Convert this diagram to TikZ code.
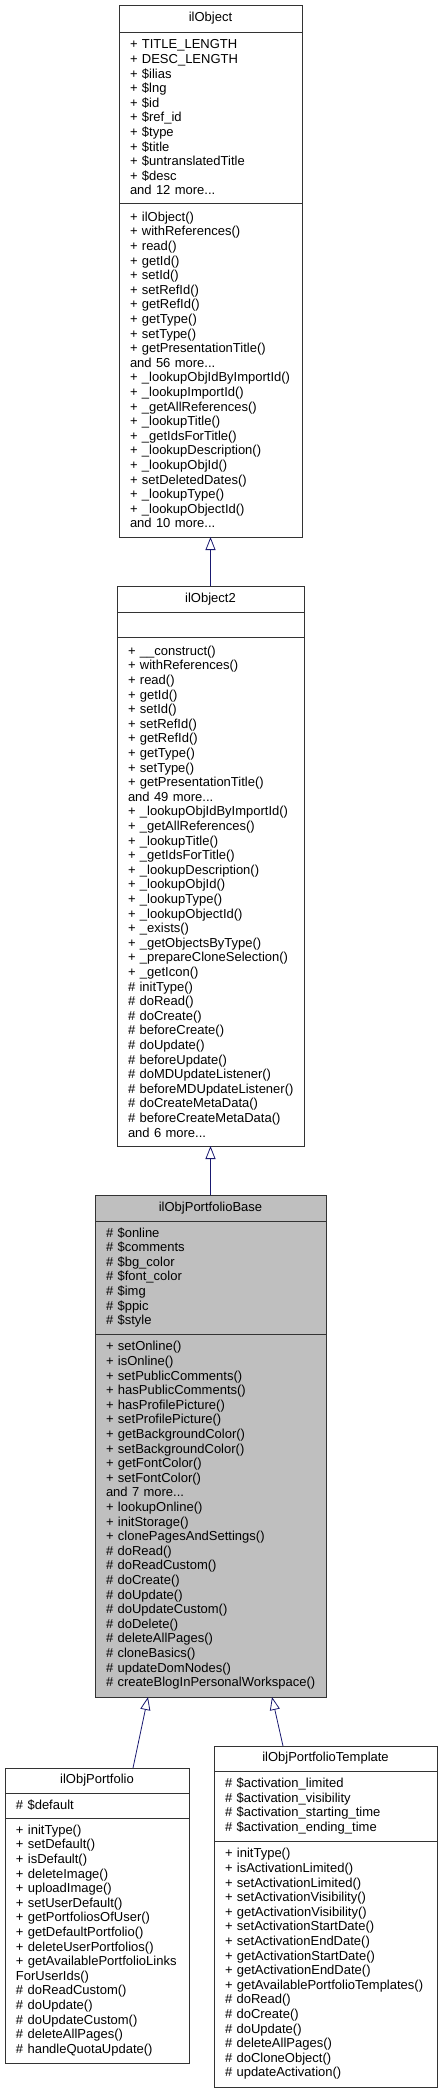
\documentclass[tikz,border=0pt]{standalone}
\usepackage{fontspec}
\setmainfont{Liberation Sans}
\usetikzlibrary{arrows.meta,positioning}
\definecolor{basegray}{RGB}{191,191,191}
\definecolor{inhblue}{RGB}{25,25,112}
\newcommand{\memfont}{\fontsize{13}{14.6}\selectfont\hyphenpenalty=10000}

\begin{document}
\begin{tikzpicture}[x=1pt, y=-1pt,
  part/.style={draw=black!80, line width=0.8pt, outer sep=0pt,
    inner xsep=11pt, inner ysep=0pt, font=\memfont, anchor=north west},
  cname/.style={part, align=center},
  members/.style={part, align=left},
  inh/.style={-{Triangle[open, length=13pt, width=10pt]}, inhblue, line width=0.8pt}]
\useasboundingbox (0,0) rectangle (442,2092);
% ilObject
\node[cname, text width=161pt, minimum height=27pt] (objT) at (119,5) {ilObject};
\node[members, text width=161pt, minimum height=171pt] (objA) at (objT.south west)
  {+~TITLE\_LENGTH\\+~DESC\_LENGTH\\+~\$ilias\\+~\$lng\\+~\$id\\+~\$ref\_id\\+~\$type\\
   +~\$title\\+~\$untranslatedTitle\\+~\$desc\\and 12 more...};
\node[members, text width=161pt, minimum height=334pt] (objM) at (objA.south west)
  {+~ilObject()\\+~withReferences()\\+~read()\\+~getId()\\+~setId()\\+~setRefId()\\
   +~getRefId()\\+~getType()\\+~setType()\\+~getPresentationTitle()\\and 56 more...\\
   +~\_lookupObjIdByImportId()\\+~\_lookupImportId()\\+~\_getAllReferences()\\
   +~\_lookupTitle()\\+~\_getIdsForTitle()\\+~\_lookupDescription()\\+~\_lookupObjId()\\
   +~setDeletedDates()\\+~\_lookupType()\\+~\_lookupObjectId()\\and 10 more...};
% ilObject2
\node[cname, text width=165pt, minimum height=26pt] (obj2T) at (117,586) {ilObject2};
\node[members, text width=165pt, minimum height=25pt] (obj2A) at (obj2T.south west) {};
\node[members, text width=165pt, minimum height=509pt] (obj2M) at (obj2A.south west)
  {+~\_\_construct()\\+~withReferences()\\+~read()\\+~getId()\\+~setId()\\+~setRefId()\\
   +~getRefId()\\+~getType()\\+~setType()\\+~getPresentationTitle()\\and 49 more...\\
   +~\_lookupObjIdByImportId()\\+~\_getAllReferences()\\+~\_lookupTitle()\\
   +~\_getIdsForTitle()\\+~\_lookupDescription()\\+~\_lookupObjId()\\+~\_lookupType()\\
   +~\_lookupObjectId()\\+~\_exists()\\+~\_getObjectsByType()\\+~\_prepareCloneSelection()\\
   +~\_getIcon()\\\#~initType()\\\#~doRead()\\\#~doCreate()\\\#~beforeCreate()\\
   \#~doUpdate()\\\#~beforeUpdate()\\\#~doMDUpdateListener()\\\#~beforeMDUpdateListener()\\
   \#~doCreateMetaData()\\\#~beforeCreateMetaData()\\and 6 more...};
\draw[inh] (obj2T) -- (objM);
% ilObjPortfolioBase
\node[cname, fill=basegray, text width=209pt, minimum height=26pt] (baseT) at (95,1195) {ilObjPortfolioBase};
\node[members, fill=basegray, text width=209pt, minimum height=113pt] (baseA) at (baseT.south west)
  {\#~\$online\\\#~\$comments\\\#~\$bg\_color\\\#~\$font\_color\\\#~\$img\\\#~\$ppic\\\#~\$style};
\node[members, fill=basegray, text width=209pt, minimum height=363pt] (baseM) at (baseA.south west)
  {+~setOnline()\\+~isOnline()\\+~setPublicComments()\\+~hasPublicComments()\\
   +~hasProfilePicture()\\+~setProfilePicture()\\+~getBackgroundColor()\\
   +~setBackgroundColor()\\+~getFontColor()\\+~setFontColor()\\and 7 more...\\
   +~lookupOnline()\\+~initStorage()\\+~clonePagesAndSettings()\\\#~doRead()\\
   \#~doReadCustom()\\\#~doCreate()\\\#~doUpdate()\\\#~doUpdateCustom()\\\#~doDelete()\\
   \#~deleteAllPages()\\\#~cloneBasics()\\\#~updateDomNodes()\\\#~createBlogInPersonalWorkspace()};
\draw[inh] (baseT) -- (obj2M);
% ilObjPortfolio
\node[cname, text width=162pt, minimum height=25pt] (pfT) at (5,1768) {ilObjPortfolio};
\node[members, text width=162pt, minimum height=25pt] (pfA) at (pfT.south west) {\#~\$default};
\node[members, text width=162pt, minimum height=245pt] (pfM) at (pfA.south west)
  {+~initType()\\+~setDefault()\\+~isDefault()\\+~deleteImage()\\+~uploadImage()\\
   +~setUserDefault()\\+~getPortfoliosOfUser()\\+~getDefaultPortfolio()\\
   +~deleteUserPortfolios()\\+~getAvailablePortfolioLinks\\ForUserIds()\\
   \#~doReadCustom()\\\#~doUpdate()\\\#~doUpdateCustom()\\\#~deleteAllPages()\\
   \#~handleQuotaUpdate()};
\draw[inh] ([xshift=36pt]pfT.north) -- ([xshift=-62.5pt]baseM.south);
% ilObjPortfolioTemplate
\node[cname, text width=201pt, minimum height=25pt] (tplT) at (214,1746) {ilObjPortfolioTemplate};
\node[members, text width=201pt, minimum height=70pt] (tplA) at (tplT.south west)
  {\#~\$activation\_limited\\\#~\$activation\_visibility\\
   \#~\$activation\_starting\_time\\\#~\$activation\_ending\_time};
\node[members, text width=201pt, minimum height=246pt] (tplM) at (tplA.south west)
  {+~initType()\\+~isActivationLimited()\\+~setActivationLimited()\\
   +~setActivationVisibility()\\+~getActivationVisibility()\\+~setActivationStartDate()\\
   +~setActivationEndDate()\\+~getActivationStartDate()\\+~getActivationEndDate()\\
   +~getAvailablePortfolioTemplates()\\\#~doRead()\\\#~doCreate()\\\#~doUpdate()\\
   \#~deleteAllPages()\\\#~doCloneObject()\\\#~updateActivation()};
\draw[inh] ([xshift=-42.5pt]tplT.north) -- ([xshift=61.5pt]baseM.south);
\end{tikzpicture}
\end{document}
